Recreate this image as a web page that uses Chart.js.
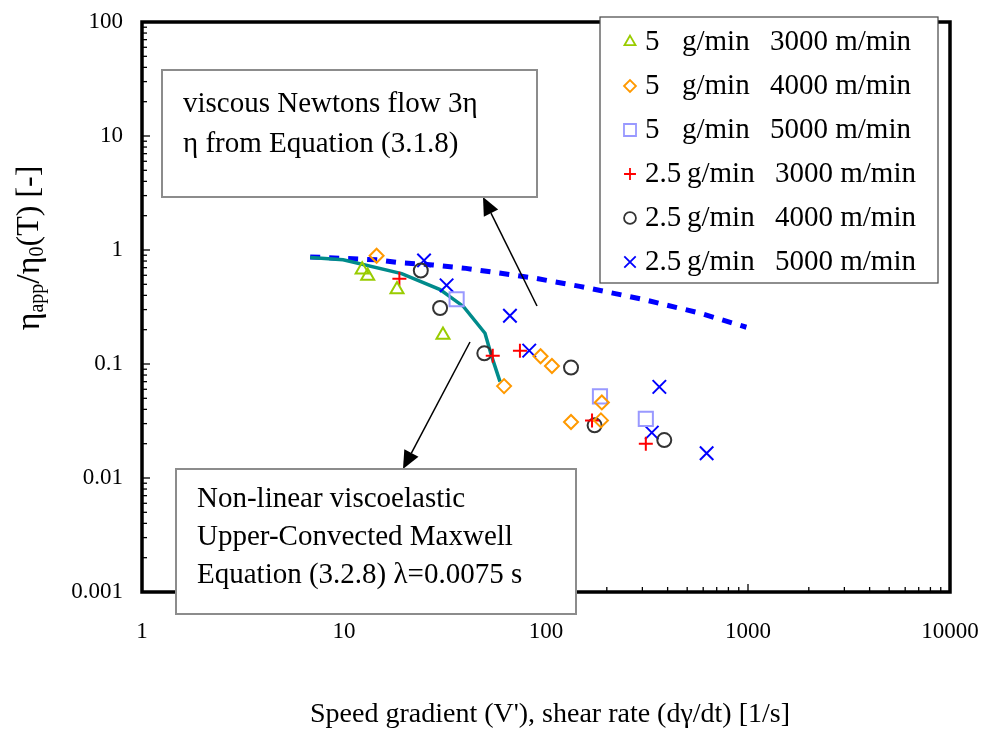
<!DOCTYPE html>
<html>
<head>
<meta charset="utf-8">
<script src="https://cdn.jsdelivr.net/npm/chart.js@4.4.0/dist/chart.umd.min.js"></script>
<style>
    html, body { margin: 0; padding: 0; background: #fff; }
</style>
</head>
<body>
<canvas id="chart_viscosity" width="986" height="749"></canvas>
<script>
// axis ticks
const xTickValues = [1, 10, 100, 1000, 10000];
const xTickLabels = ["1", "10", "100", "1000", "10000"];
const yTickValues = [0.001, 0.01, 0.1, 1, 10, 100];
const yTickLabels = ["0.001", "0.01", "0.1", "1", "10", "100"];

// legend text (throughput / take-up speed)
const seriesRate = ["5", "5", "5", "2.5", "2.5", "2.5"];
const seriesSpeed = ["3000", "4000", "5000", "3000", "4000", "5000"];

// measured points
const x_5g_3000 = [12.3, 13.1, 18.3, 30.9];
const y_5g_3000 = [0.67, 0.59, 0.45, 0.18];

const x_5g_4000 = [14.5, 62, 94, 107, 133, 189, 187];
const y_5g_4000 = [0.89, 0.064, 0.117, 0.096, 0.031, 0.046, 0.032];

const x_5g_5000 = [36.1, 185, 312];
const y_5g_5000 = [0.37, 0.052, 0.033];

const x_25g_3000 = [18.8, 54.5, 74.3, 169, 312];
const y_25g_3000 = [0.56, 0.118, 0.131, 0.032, 0.020];

const x_25g_4000 = [24, 29.9, 49.5, 133, 174, 385];
const y_25g_4000 = [0.66, 0.31, 0.124, 0.093, 0.029, 0.0215];

const x_25g_5000 = [24.9, 32.2, 66.3, 82.6, 364, 334, 624];
const y_25g_5000 = [0.81, 0.49, 0.265, 0.131, 0.063, 0.025, 0.0165];

// model curves
const ucm_x = [6.8, 9.9, 19.3, 29.9, 39, 49.9, 53.9, 59.2];
const ucm_y = [0.86, 0.82, 0.62, 0.45, 0.32, 0.186, 0.116, 0.070];

const newton_x = [6.8, 14.5, 19.5, 27.5, 40.2, 86, 147, 300, 575, 982];
const newton_y = [0.87, 0.82, 0.77, 0.74, 0.69, 0.57, 0.48, 0.37, 0.28, 0.21];

const serifFont = '"Liberation Serif", "Times New Roman", serif';

function toPoints(xs, ys) {
    return xs.map(function (v, i) { return {x: v, y: ys[i]}; });
}

const markerStyles = [
    {pointStyle: 'triangle', radius: 7.5, color: '#99cc00'},
    {pointStyle: 'rectRot', radius: 7, color: '#ff9900'},
    {pointStyle: 'rect', radius: 10, color: '#9999ff'},
    {pointStyle: 'cross', radius: 7, color: '#ff0000'},
    {pointStyle: 'circle', radius: 7, color: '#333333'},
    {pointStyle: 'crossRot', radius: 9.5, color: '#0000ff'}
];

const seriesX = [x_5g_3000, x_5g_4000, x_5g_5000, x_25g_3000, x_25g_4000, x_25g_5000];
const seriesY = [y_5g_3000, y_5g_4000, y_5g_5000, y_25g_3000, y_25g_4000, y_25g_5000];

const datasets = seriesX.map(function (xs, i) {
    const m = markerStyles[i];
    return {
        label: seriesRate[i] + " g/min " + seriesSpeed[i] + " m/min",
        data: toPoints(xs, seriesY[i]),
        showLine: false,
        pointStyle: m.pointStyle,
        pointRadius: m.radius,
        pointBorderColor: m.color,
        pointBackgroundColor: 'rgba(0,0,0,0)',
        pointBorderWidth: 2
    };
});

datasets.push({
    label: 'UCM',
    data: toPoints(ucm_x, ucm_y),
    showLine: true,
    borderColor: '#008b8b',
    borderWidth: 3.5,
    pointRadius: 0,
    tension: 0
});
datasets.push({
    label: 'Newton',
    data: toPoints(newton_x, newton_y),
    showLine: true,
    borderColor: '#0000ff',
    borderWidth: 5,
    borderDash: [10, 9],
    pointRadius: 0,
    tension: 0
});

function drawArrow(ctx, x1, y1, x2, y2) {
    const headLen = 18, headW = 8;
    const ang = Math.atan2(y2 - y1, x2 - x1);
    const bx = x2 - headLen * Math.cos(ang), by = y2 - headLen * Math.sin(ang);
    ctx.beginPath();
    ctx.moveTo(x1, y1);
    ctx.lineTo(bx, by);
    ctx.strokeStyle = '#000';
    ctx.lineWidth = 1.5;
    ctx.stroke();
    ctx.beginPath();
    ctx.moveTo(x2, y2);
    ctx.lineTo(bx + headW * Math.sin(ang), by - headW * Math.cos(ang));
    ctx.lineTo(bx - headW * Math.sin(ang), by + headW * Math.cos(ang));
    ctx.closePath();
    ctx.fillStyle = '#000';
    ctx.fill();
}

function drawTextBox(ctx, box, lines) {
    ctx.fillStyle = '#fff';
    ctx.fillRect(box.x, box.y, box.w, box.h);
    ctx.strokeStyle = '#8c8c8c';
    ctx.lineWidth = 2;
    ctx.strokeRect(box.x, box.y, box.w, box.h);
    ctx.fillStyle = '#000';
    ctx.font = '29px ' + serifFont;
    ctx.textAlign = 'left';
    ctx.textBaseline = 'middle';
    lines.forEach(function (t, i) {
        ctx.fillText(t, box.tx, box.ty + i * box.lh);
    });
}

function drawRich(ctx, parts, cx, cy) {
    let total = 0;
    parts.forEach(function (p) {
        ctx.font = p[1] + 'px ' + serifFont;
        total += ctx.measureText(p[0]).width;
    });
    let x = cx - total / 2;
    ctx.textAlign = 'left';
    ctx.textBaseline = 'middle';
    parts.forEach(function (p) {
        ctx.font = p[1] + 'px ' + serifFont;
        ctx.fillText(p[0], x, cy + p[2]);
        x += ctx.measureText(p[0]).width;
    });
}

const decorations = {
    id: 'decorations',
    afterDatasetsDraw(chart) {
        const ctx = chart.ctx;
        const a = chart.chartArea;
        const xs = chart.scales.x, ys = chart.scales.y;
        ctx.save();
        // inner ticks
        ctx.strokeStyle = '#000';
        ctx.lineWidth = 1.3;
        for (let k = 0; k < 4; k++) {
            for (let m = 1; m <= 9; m++) {
                const px = xs.getPixelForValue(m * Math.pow(10, k));
                const len = m === 1 ? 8 : 5;
                ctx.beginPath();
                ctx.moveTo(px, a.bottom);
                ctx.lineTo(px, a.bottom - len);
                ctx.stroke();
            }
        }
        for (let k = -3; k < 2; k++) {
            for (let m = 1; m <= 9; m++) {
                const py = ys.getPixelForValue(m * Math.pow(10, k));
                const len = m === 1 ? 8 : 5;
                ctx.beginPath();
                ctx.moveTo(a.left, py);
                ctx.lineTo(a.left + len, py);
                ctx.stroke();
            }
        }
        // frame
        ctx.lineWidth = 3.5;
        ctx.strokeRect(a.left, a.top, a.right - a.left, a.bottom - a.top);

        // arrows
        drawArrow(ctx, 537, 306, 483, 197);
        drawArrow(ctx, 470, 342, 403, 469);

        // annotation boxes
        drawTextBox(ctx, {x: 162, y: 70, w: 375, h: 127, tx: 183, ty: 104, lh: 40},
            ["viscous Newtons flow 3η", "η from Equation (3.1.8)"]);
        drawTextBox(ctx, {x: 176, y: 469, w: 400, h: 145, tx: 197, ty: 499, lh: 38},
            ["Non-linear viscoelastic", "Upper-Convected Maxwell", "Equation (3.2.8) λ=0.0075 s"]);

        // legend
        ctx.fillStyle = '#fff';
        ctx.fillRect(600, 17, 338, 266);
        ctx.strokeStyle = '#444';
        ctx.lineWidth = 1.2;
        ctx.strokeRect(600, 17, 338, 266);
        for (let i = 0; i < seriesRate.length; i++) {
            const ry = 42 + i * 44;
            const m = markerStyles[i];
            ctx.fillStyle = 'rgba(0,0,0,0)';
            ctx.strokeStyle = m.color;
            ctx.lineWidth = 1.8;
            Chart.helpers.drawPoint(ctx, {pointStyle: m.pointStyle, radius: m.radius * 0.85, borderWidth: 1.8, rotation: 0}, 630, ry);
            ctx.fillStyle = '#000';
            ctx.font = '29px ' + serifFont;
            ctx.textAlign = 'left';
            ctx.textBaseline = 'middle';
            ctx.fillText(seriesRate[i], 645, ry);
            const gx = seriesRate[i] === '5' ? 682 : 687;
            ctx.fillText('g/min', gx, ry);
            ctx.fillText(seriesSpeed[i] + ' m/min', gx + 88, ry);
        }

        // axis titles
        ctx.fillStyle = '#000';
        drawRich(ctx, [["Speed gradient (V'), shear rate (dγ/dt) [1/s]", 28, 0]], 550, 715);
        ctx.translate(30, 248);
        ctx.rotate(-Math.PI / 2);
        drawRich(ctx, [["η", 34, 0], ["app", 20, 8], ["/η", 34, 0], ["0", 20, 8], ["(T) [-]", 32, 0]], 0, 0);
        ctx.restore();
    }
};

const config = {
    type: 'scatter',
    data: {datasets: datasets},
    options: {
        responsive: false,
        animation: false,
        devicePixelRatio: 1,
        layout: {padding: {left: 0, top: 22, right: 36, bottom: 0}},
        plugins: {legend: {display: false}, tooltip: {enabled: false}},
        scales: {
            x: {
                type: 'logarithmic',
                min: 1,
                max: 10000,
                position: 'bottom',
                afterFit: function (s) { s.height = 157; s.paddingLeft = 0; s.paddingRight = 0; },
                afterBuildTicks: function (s) { s.ticks = xTickValues.map(function (v) { return {value: v}; }); },
                grid: {display: false, drawTicks: false},
                border: {display: false},
                ticks: {
                    autoSkip: false,
                    maxRotation: 0,
                    padding: 26,
                    color: '#000',
                    font: {family: serifFont, size: 23},
                    callback: function (v) { return xTickLabels[xTickValues.indexOf(v)]; }
                }
            },
            y: {
                type: 'logarithmic',
                min: 0.001,
                max: 100,
                afterFit: function (s) { s.width = 142; s.paddingTop = 0; s.paddingBottom = 0; },
                afterBuildTicks: function (s) { s.ticks = yTickValues.map(function (v) { return {value: v}; }); },
                grid: {display: false, drawTicks: false},
                border: {display: false},
                ticks: {
                    autoSkip: false,
                    padding: 19,
                    color: '#000',
                    font: {family: serifFont, size: 23},
                    callback: function (v) { return yTickLabels[yTickValues.indexOf(v)]; }
                }
            }
        }
    },
    plugins: [decorations]
};

const myChart = new Chart(document.getElementById('chart_viscosity'), config);
</script>
</body>
</html>
